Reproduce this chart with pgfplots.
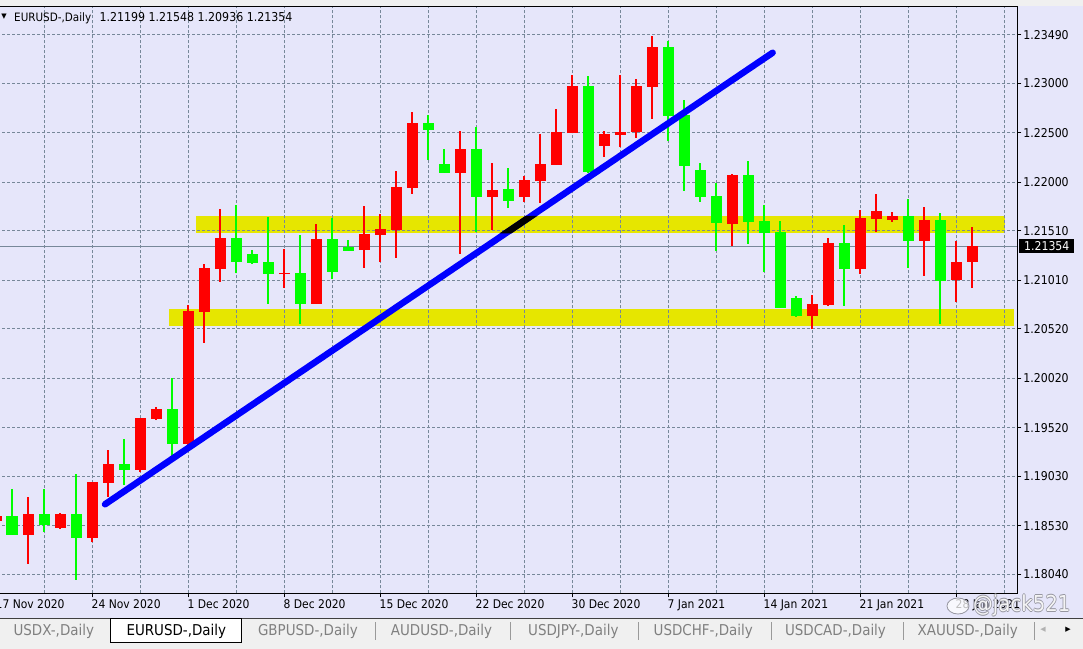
\documentclass[border=0pt]{standalone}
\usepackage{fontspec}
\setmainfont{DejaVu Sans}[FakeStretch=0.9]
\newfontfamily\symfont{DejaVu Sans}
\usepackage{pgfplots}
\pgfplotsset{compat=1.18}
\usepackage{pgfplotstable}
\definecolor{chartbg}{RGB}{230,230,250}
\definecolor{gridc}{RGB}{119,136,153}
\definecolor{bandy}{RGB}{230,230,0}
\definecolor{cRed}{RGB}{255,0,0}
\definecolor{cGreen}{RGB}{0,255,0}
\definecolor{tabbg}{RGB}{240,240,240}
\definecolor{tabtxt}{RGB}{128,128,128}
\definecolor{wmline}{RGB}{150,150,160}

% k = candle index; lo = low, bl = body bottom, bh = body top, hi = high
\pgfplotstableread{
k lo bl bh hi
-1 1.18538 1.18581 1.18629 1.18669
1 1.18147 1.18440 1.18649 1.18821
3 1.18498 1.18508 1.18649 1.18659
5 1.18366 1.18410 1.18972 1.18972
6 1.18821 1.18965 1.19154 1.19296
8 1.19076 1.19097 1.19619 1.19619
9 1.19598 1.19612 1.19710 1.19730
11 1.19346 1.19359 1.20699 1.20760
12 1.20379 1.20692 1.21134 1.21174
13 1.20995 1.21127 1.21437 1.21730
17 1.20935 1.21073 1.21083 1.21329
19 1.20773 1.20773 1.21427 1.21578
22 1.21137 1.21319 1.21477 1.21760
23 1.21197 1.21470 1.21528 1.21679
24 1.21238 1.21521 1.21952 1.22113
25 1.21884 1.21945 1.22598 1.22709
28 1.21278 1.22096 1.22336 1.22517
30 1.21521 1.21854 1.21921 1.22194
32 1.21803 1.21854 1.22022 1.22066
33 1.21793 1.22015 1.22184 1.22487
34 1.22177 1.22177 1.22507 1.22740
35 1.22497 1.22497 1.22972 1.23083
37 1.22258 1.22369 1.22487 1.22517
38 1.22359 1.22480 1.22507 1.23083
39 1.22450 1.22510 1.22972 1.23043
40 1.22642 1.22965 1.23366 1.23477
45 1.21359 1.21581 1.22073 1.22083
50 1.20521 1.20652 1.20773 1.20864
51 1.20753 1.20763 1.21389 1.21440
53 1.21076 1.21127 1.21642 1.21723
54 1.21500 1.21632 1.21712 1.21884
55 1.21601 1.21622 1.21662 1.21702
57 1.21056 1.21409 1.21622 1.21753
59 1.20793 1.21016 1.21197 1.21409
60 1.20936 1.21199 1.21354 1.21548
}\redtab

\pgfplotstableread{
k lo bl bh hi
0 1.18440 1.18440 1.18629 1.18902
2 1.18470 1.18538 1.18649 1.18902
4 1.17986 1.18410 1.18649 1.19053
7 1.18942 1.19097 1.19154 1.19407
10 1.19235 1.19359 1.19710 1.20023
14 1.21080 1.21197 1.21437 1.21767
15 1.21177 1.21187 1.21275 1.21315
16 1.20773 1.21076 1.21194 1.21649
18 1.20571 1.20773 1.21083 1.21467
20 1.21026 1.21096 1.21427 1.21639
21 1.21308 1.21308 1.21346 1.21417
26 1.22228 1.22531 1.22598 1.22679
27 1.22096 1.22096 1.22184 1.22336
29 1.21500 1.21854 1.22336 1.22558
31 1.21743 1.21813 1.21932 1.22144
36 1.22093 1.22106 1.22972 1.23073
41 1.22416 1.22672 1.23366 1.23426
42 1.21914 1.22167 1.22679 1.22830
43 1.21803 1.21854 1.22123 1.22194
44 1.21308 1.21591 1.21861 1.21995
46 1.21379 1.21601 1.22073 1.22214
47 1.21093 1.21490 1.21608 1.21770
48 1.20733 1.20733 1.21500 1.21608
49 1.20639 1.20652 1.20834 1.20854
52 1.20753 1.21127 1.21389 1.21571
56 1.21137 1.21409 1.21662 1.21834
58 1.20571 1.21005 1.21622 1.21692
}\greentab

\pgfplotsset{
  candle/.style={only marks, mark=*, mark size=0pt, mark options={draw=none, fill=none}, forget plot,
    error bars/.cd, y dir=plus, y explicit, error mark=none, error bar style={#1}},
}

\begin{document}
\begin{tikzpicture}
\begin{axis}[
  set layers,
  at={(-3bp,55.7bp)}, anchor=south west,
  scale only axis, width=1020.3bp, height=586.3bp,
  xmin=-0.9375, xmax=62.83, ymin=1.17848, ymax=1.23770,
  axis background/.style={fill=chartbg},
  axis line style={black, line width=1bp},
  xtick={5,11,...,59},
  xticklabels={24 Nov 2020,1 Dec 2020,8 Dec 2020,15 Dec 2020,22 Dec 2020,30 Dec 2020,7 Jan 2021,14 Jan 2021,21 Jan 2021,28 Jan 2021},
  minor xtick={2,8,...,62},
  ytick={1.18040,1.18530,1.19030,1.19520,1.20020,1.20520,1.21010,1.21510,1.22000,1.22500,1.23000,1.23490},
  yticklabels={1.18040,1.18530,1.19030,1.19520,1.20020,1.20520,1.21010,1.21510,1.22000,1.22500,1.23000,1.23490},
  scaled y ticks=false,
  grid=both,
  major grid style={gridc, line width=1bp, dash pattern=on 3bp off 2bp},
  minor grid style={gridc, line width=1bp, dash pattern=on 3bp off 2bp},
  xtick pos=left, ytick pos=right, yticklabel pos=right,
  tick align=outside, major tick length=4bp, minor tick length=0pt,
  tick style={black, line width=1bp},
  x tick label style={font=\fontsize{12}{14}\selectfont, anchor=north west, inner sep=0pt, xshift=-0.5bp, yshift=-2bp},
  y tick label style={font=\fontsize{12.2}{14}\selectfont, anchor=west, inner sep=0pt, xshift=2bp},
]
% support / resistance bands
\addplot[on layer=axis background, fill=bandy, draw=none, forget plot]
  coordinates {(11.5,1.21484) (62.06,1.21484) (62.06,1.21659) (11.5,1.21659)} --cycle;
\addplot[on layer=axis background, fill=bandy, draw=none, forget plot]
  coordinates {(9.81,1.20551) (62.63,1.20551) (62.63,1.20720) (9.81,1.20720)} --cycle;
% current price line
\addplot[on layer=axis grid, gridc, line width=1bp, forget plot]
  coordinates {(-0.9375,1.21354) (62.83,1.21354)};
% wicks
\addplot[candle={cRed, line width=1.2bp}]
  table[x=k, y=lo, y error plus expr={\thisrow{hi}-\thisrow{lo}}] {\redtab};
\addplot[candle={cGreen, line width=1.2bp}]
  table[x=k, y=lo, y error plus expr={\thisrow{hi}-\thisrow{lo}}] {\greentab};
% bodies
\addplot[candle={cRed, line width=11bp}]
  table[x=k, y=bl, y error plus expr={\thisrow{bh}-\thisrow{bl}}] {\redtab};
\addplot[candle={cGreen, line width=11bp}]
  table[x=k, y=bl, y error plus expr={\thisrow{bh}-\thisrow{bl}}] {\greentab};
% trend line
\addplot[blue, line width=6.5bp, line cap=round, forget plot]
  coordinates {(5.8125,1.18747) (47.54,1.23308)};
\addplot[fill=black, draw=none, forget plot]
  coordinates {(30.48,1.21484) (31.225,1.21484) (32.82,1.21659) (32.08,1.21659)} --cycle;
\coordinate (pl) at (axis cs:62.83,1.21354);
\coordinate (nov17) at (axis cs:-1,1.17848);
\end{axis}

% page background outside the plot area, beneath the tick labels
\begin{pgfonlayer}{axis background}
\fill[chartbg] (0bp,30bp) rectangle (1083bp,55.2bp);
\fill[chartbg] (1017.8bp,30bp) rectangle (1083bp,649bp);
\end{pgfonlayer}

\fill[tabbg] (0bp,0bp) rectangle (1083bp,30.5bp);
\fill[tabbg] (0bp,642.6bp) rectangle (1083bp,649bp);
\draw[black!75, line width=1bp] (0bp,30.5bp) -- (1083bp,30.5bp);

% current price label
\node[fill=black, text=white, font=\fontsize{12.2}{14}\selectfont, inner xsep=5bp, inner ysep=0pt,
  minimum height=14.5bp, anchor=west] at ([xshift=1.7bp]pl) {1.21354};
% partly hidden first date label
\node[font=\fontsize{12}{14}\selectfont, anchor=north west, inner sep=0pt] at ([xshift=-0.5bp,yshift=-6bp]nov17) {17 Nov 2020};

% header
\node[font=\symfont\fontsize{7}{8}\selectfont, inner sep=0pt] at (4bp,632bp) {▼};
\node[font=\fontsize{11.6}{13}\selectfont, anchor=base west, inner sep=0pt] at (14bp,627bp) {EURUSD-,Daily};
\node[font=\fontsize{12.3}{14}\selectfont, anchor=base west, inner sep=0pt] at (99.3bp,627bp) {1.21199 1.21548 1.20936 1.21354};

% watermark (white letters with a grey outline)
\draw[wmline, line width=0.8bp, fill=white, fill opacity=0.75] (958bp,43bp) ellipse (11bp and 8bp);
\foreach \dx/\dy in {-0.7/0,0.7/0,0/-0.7,0/0.7} {
  \node[font=\fontsize{22}{24}\selectfont, text=wmline, anchor=west, inner sep=0pt] at (973bp+\dx bp,43.5bp+\dy bp) {@jack521};
}
\node[font=\fontsize{22}{24}\selectfont, text=white, text opacity=0.9, anchor=west, inner sep=0pt] at (973bp,43.5bp) {@jack521};

% tab bar
\draw[black, fill=white, line width=1bp] (110bp,30.5bp) rectangle (241.7bp,6.3bp);
\foreach \xx in {375,510.7,638.7,771,903,1034} {
  \draw[tabtxt!80, line width=1bp] (\xx bp,9bp) -- (\xx bp,27.3bp);
}
\begin{scope}[every node/.style={font=\fontsize{15}{18}\selectfont, anchor=base, inner sep=0pt, text=tabtxt}]
\node at (53.8bp,14bp) {USDX-,Daily};
\node[text=black] at (176.3bp,14bp) {EURUSD-,Daily};
\node at (307.9bp,14bp) {GBPUSD-,Daily};
\node at (441.5bp,14bp) {AUDUSD-,Daily};
\node at (573.3bp,14bp) {USDJPY-,Daily};
\node at (703.3bp,14bp) {USDCHF-,Daily};
\node at (835.5bp,14bp) {USDCAD-,Daily};
\node at (967.8bp,14bp) {XAUUSD-,Daily};
\end{scope}
\node[font=\symfont\fontsize{7}{8}\selectfont, text=black!30, inner sep=0pt] at (1043bp,19bp) {◀};
\node[font=\symfont\fontsize{7}{8}\selectfont, text=black, inner sep=0pt] at (1068bp,19bp) {▶};

\pgfresetboundingbox
\path[use as bounding box] (0bp,0bp) rectangle (1083bp,649bp);
\end{tikzpicture}
\end{document}
